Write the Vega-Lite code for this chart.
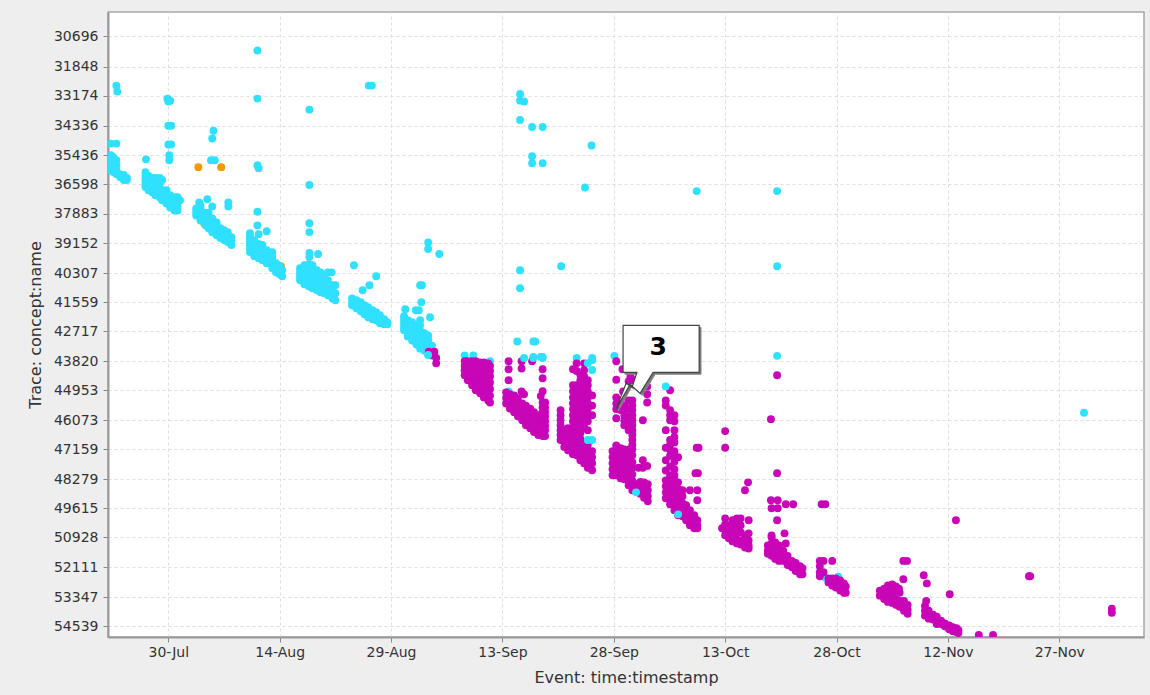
{"$schema":"https://vega.github.io/schema/vega-lite/v6.json","width":1036,"height":625,"autosize":"none","padding":{"left":108,"top":12,"right":6,"bottom":58},"background":"#eeeeee",
"config":{"view":{"fill":"white","stroke":"#a8a8a8","strokeWidth":1.5}},
"encoding":{"x":{"field":"d","type":"temporal","title":"Event: time:timestamp","scale":{"domain":[{"year":2015,"month":7,"date":21,"hours":21},{"year":2015,"month":12,"date":8,"hours":10}],"nice":false},"axis":{"values":[{"year":2015,"month":7,"date":30},{"year":2015,"month":8,"date":14},{"year":2015,"month":8,"date":29},{"year":2015,"month":9,"date":13},{"year":2015,"month":9,"date":28},{"year":2015,"month":10,"date":13},{"year":2015,"month":10,"date":28},{"year":2015,"month":11,"date":12},{"year":2015,"month":11,"date":27}],"format":"%d-%b","labelFlush":false,"labelFont":"DejaVu Sans","labelFontSize":14,"labelColor":"#333333","labelPadding":3,"titleFont":"DejaVu Sans","titleFontSize":16,"titleFontWeight":"normal","titleColor":"#333333","titlePadding":10,"grid":true,"gridColor":"#dddddd","gridDash":[3,3],"tickColor":"#888888","tickSize":5,"domainColor":"#999999","domainWidth":2}},
"y":{"field":"t","type":"quantitative","title":"Trace: concept:name","scale":{"domain":[29774,30696,31848,33174,34336,35436,36598,37883,39152,40307,41559,42717,43820,44953,46073,47159,48279,49615,50928,52111,53347,54539,54980],"range":[0,24.3,54.6,83.6,113.8,143.3,172,201.6,231,261.3,290.3,319.3,349.3,378.3,408.3,437.3,467.3,496.3,525.3,555.3,585,614.3,625],"nice":false,"zero":false},"axis":{"values":[30696,31848,33174,34336,35436,36598,37883,39152,40307,41559,42717,43820,44953,46073,47159,48279,49615,50928,52111,53347,54539],"format":"d","labelFont":"DejaVu Sans","labelFontSize":14,"labelColor":"#333333","labelPadding":5,"titleFont":"DejaVu Sans","titleFontSize":16,"titleFontWeight":"normal","titleColor":"#333333","titlePadding":10,"grid":true,"gridColor":"#dddddd","gridDash":[3,3],"tickColor":"#888888","tickSize":5,"domainColor":"#999999","domainWidth":2}}},
"layer":[
{"data":{"values":[
{"d":"2015-07-22T04:00","t":35950,"c":"C"},{"d":"2015-08-03T20:00","t":38300,"c":"C"},{"d":"2015-08-14T04:00","t":40040,"c":"C"},
{"d":"2015-07-23T00:00","t":32717,"c":"A"},{"d":"2015-07-23T03:00","t":32990,"c":"A"},{"d":"2015-07-22T06:00","t":35000,"c":"A"},{"d":"2015-07-23T00:00","t":35000,"c":"A"},
{"d":"2015-07-22T06:00","t":35436,"c":"A"},{"d":"2015-07-22T06:00","t":35636,"c":"A"},{"d":"2015-07-22T06:00","t":35836,"c":"A"},{"d":"2015-07-22T06:00","t":36036,"c":"A"},
{"d":"2015-07-22T14:00","t":35516,"c":"A"},{"d":"2015-07-22T14:00","t":35716,"c":"A"},{"d":"2015-07-22T14:00","t":35916,"c":"A"},{"d":"2015-07-22T14:00","t":36116,"c":"A"},
{"d":"2015-07-23T00:00","t":35636,"c":"A"},{"d":"2015-07-23T00:00","t":35836,"c":"A"},{"d":"2015-07-23T00:00","t":36036,"c":"A"},{"d":"2015-07-23T00:00","t":36196,"c":"A"},
{"d":"2015-07-23T12:00","t":36196,"c":"A"},{"d":"2015-07-23T12:00","t":36316,"c":"A"},{"d":"2015-07-24T00:00","t":36236,"c":"A"},{"d":"2015-07-24T00:00","t":36356,"c":"A"},{"d":"2015-07-24T00:00","t":36436,"c":"A"},{"d":"2015-07-24T10:00","t":36356,"c":"A"},{"d":"2015-07-24T10:00","t":36436,"c":"A"},
{"d":"2015-07-29T21:00","t":33290,"c":"A"},{"d":"2015-07-30T06:00","t":33368,"c":"A"},{"d":"2015-07-30T00:00","t":33400,"c":"A"},{"d":"2015-07-30T00:00","t":34336,"c":"A"},{"d":"2015-07-30T09:00","t":34336,"c":"A"},{"d":"2015-07-30T00:00","t":35033,"c":"A"},{"d":"2015-07-30T09:00","t":35033,"c":"A"},{"d":"2015-07-30T03:00","t":35436,"c":"A"},{"d":"2015-07-30T03:00","t":35636,"c":"A"},{"d":"2015-07-27T00:00","t":35600,"c":"A"},
{"d":"2015-07-26T22:00","t":36116,"c":"A"},{"d":"2015-07-26T22:00","t":36276,"c":"A"},{"d":"2015-07-26T22:00","t":36436,"c":"A"},{"d":"2015-07-26T22:00","t":36598,"c":"A"},{"d":"2015-07-26T22:00","t":36730,"c":"A"},
{"d":"2015-07-27T08:00","t":36276,"c":"A"},{"d":"2015-07-27T08:00","t":36480,"c":"A"},{"d":"2015-07-27T08:00","t":36686,"c":"A"},{"d":"2015-07-27T08:00","t":36864,"c":"A"},
{"d":"2015-07-27T20:00","t":36356,"c":"A"},{"d":"2015-07-27T20:00","t":36555,"c":"A"},{"d":"2015-07-27T20:00","t":36775,"c":"A"},{"d":"2015-07-27T20:00","t":36953,"c":"A"},
{"d":"2015-07-28T06:00","t":36356,"c":"A"},{"d":"2015-07-28T06:00","t":36598,"c":"A"},{"d":"2015-07-28T06:00","t":36864,"c":"A"},{"d":"2015-07-28T06:00","t":37085,"c":"A"},
{"d":"2015-07-28T20:00","t":36356,"c":"A"},{"d":"2015-07-28T20:00","t":36686,"c":"A"},{"d":"2015-07-28T20:00","t":36953,"c":"A"},{"d":"2015-07-28T20:00","t":37174,"c":"A"},
{"d":"2015-07-29T04:00","t":36436,"c":"A"},{"d":"2015-07-29T04:00","t":36864,"c":"A"},{"d":"2015-07-29T04:00","t":37085,"c":"A"},{"d":"2015-07-29T04:00","t":37307,"c":"A"},
{"d":"2015-07-29T18:00","t":36864,"c":"A"},{"d":"2015-07-29T18:00","t":37085,"c":"A"},{"d":"2015-07-29T18:00","t":37307,"c":"A"},{"d":"2015-07-29T18:00","t":37440,"c":"A"},
{"d":"2015-07-30T06:00","t":37085,"c":"A"},{"d":"2015-07-30T06:00","t":37307,"c":"A"},{"d":"2015-07-30T06:00","t":37528,"c":"A"},{"d":"2015-07-30T06:00","t":37617,"c":"A"},
{"d":"2015-07-30T20:00","t":37174,"c":"A"},{"d":"2015-07-30T20:00","t":37395,"c":"A"},{"d":"2015-07-30T20:00","t":37572,"c":"A"},{"d":"2015-07-30T20:00","t":37750,"c":"A"},
{"d":"2015-07-31T06:00","t":37174,"c":"A"},{"d":"2015-07-31T06:00","t":37350,"c":"A"},{"d":"2015-07-31T06:00","t":37572,"c":"A"},{"d":"2015-07-31T06:00","t":37750,"c":"A"},{"d":"2015-07-31T14:00","t":37307,"c":"A"},
{"d":"2015-08-03T04:00","t":37400,"c":"A"},{"d":"2015-08-04T06:00","t":37260,"c":"A"},{"d":"2015-08-04T22:00","t":37570,"c":"A"},{"d":"2015-08-07T02:00","t":37400,"c":"A"},{"d":"2015-08-07T02:00","t":37570,"c":"A"},
{"d":"2015-08-05T02:00","t":34520,"c":"A"},{"d":"2015-08-04T22:00","t":34810,"c":"A"},{"d":"2015-08-04T18:00","t":35636,"c":"A"},{"d":"2015-08-05T06:00","t":35636,"c":"A"},
{"d":"2015-08-02T18:00","t":37662,"c":"A"},{"d":"2015-08-02T18:00","t":37815,"c":"A"},{"d":"2015-08-02T18:00","t":37968,"c":"A"},{"d":"2015-08-03T08:00","t":37528,"c":"A"},{"d":"2015-08-03T08:00","t":37680,"c":"A"},{"d":"2015-08-03T08:00","t":37840,"c":"A"},{"d":"2015-08-03T08:00","t":38000,"c":"A"},{"d":"2015-08-03T08:00","t":38180,"c":"A"},
{"d":"2015-08-04T00:00","t":37840,"c":"A"},{"d":"2015-08-04T00:00","t":37968,"c":"A"},{"d":"2015-08-04T00:00","t":38095,"c":"A"},{"d":"2015-08-04T00:00","t":38240,"c":"A"},{"d":"2015-08-04T00:00","t":38391,"c":"A"},{"d":"2015-08-04T10:00","t":37840,"c":"A"},{"d":"2015-08-04T10:00","t":38010,"c":"A"},{"d":"2015-08-04T10:00","t":38180,"c":"A"},{"d":"2015-08-04T10:00","t":38350,"c":"A"},{"d":"2015-08-04T10:00","t":38518,"c":"A"},
{"d":"2015-08-04T22:00","t":38095,"c":"A"},{"d":"2015-08-04T22:00","t":38240,"c":"A"},{"d":"2015-08-04T22:00","t":38391,"c":"A"},{"d":"2015-08-04T22:00","t":38540,"c":"A"},{"d":"2015-08-04T22:00","t":38687,"c":"A"},{"d":"2015-08-05T12:00","t":38265,"c":"A"},{"d":"2015-08-05T12:00","t":38410,"c":"A"},{"d":"2015-08-05T12:00","t":38560,"c":"A"},{"d":"2015-08-05T12:00","t":38690,"c":"A"},{"d":"2015-08-05T12:00","t":38814,"c":"A"},
{"d":"2015-08-06T00:00","t":38518,"c":"A"},{"d":"2015-08-06T00:00","t":38630,"c":"A"},{"d":"2015-08-06T00:00","t":38750,"c":"A"},{"d":"2015-08-06T00:00","t":38850,"c":"A"},{"d":"2015-08-06T00:00","t":38941,"c":"A"},{"d":"2015-08-06T12:00","t":38603,"c":"A"},{"d":"2015-08-06T12:00","t":38700,"c":"A"},{"d":"2015-08-06T12:00","t":38814,"c":"A"},{"d":"2015-08-06T12:00","t":38920,"c":"A"},{"d":"2015-08-06T12:00","t":39026,"c":"A"},
{"d":"2015-08-07T00:00","t":38687,"c":"A"},{"d":"2015-08-07T00:00","t":38790,"c":"A"},{"d":"2015-08-07T00:00","t":38900,"c":"A"},{"d":"2015-08-07T00:00","t":39000,"c":"A"},{"d":"2015-08-07T00:00","t":39110,"c":"A"},{"d":"2015-08-07T12:00","t":38898,"c":"A"},{"d":"2015-08-07T12:00","t":39060,"c":"A"},{"d":"2015-08-07T12:00","t":39230,"c":"A"},
{"d":"2015-08-11T00:00","t":31234,"c":"A"},{"d":"2015-08-11T00:00","t":33290,"c":"A"},{"d":"2015-08-11T00:00","t":35836,"c":"A"},{"d":"2015-08-11T04:00","t":35956,"c":"A"},{"d":"2015-08-11T00:00","t":37800,"c":"A"},{"d":"2015-08-11T00:00","t":38391,"c":"A"},{"d":"2015-08-12T06:00","t":38645,"c":"A"},{"d":"2015-08-11T04:00","t":38770,"c":"A"},
{"d":"2015-08-10T00:00","t":38730,"c":"A"},{"d":"2015-08-10T00:00","t":38855,"c":"A"},{"d":"2015-08-10T00:00","t":38980,"c":"A"},{"d":"2015-08-10T00:00","t":39105,"c":"A"},{"d":"2015-08-10T00:00","t":39230,"c":"A"},{"d":"2015-08-10T00:00","t":39365,"c":"A"},{"d":"2015-08-10T00:00","t":39500,"c":"A"},
{"d":"2015-08-10T14:00","t":39026,"c":"A"},{"d":"2015-08-10T14:00","t":39185,"c":"A"},{"d":"2015-08-10T14:00","t":39345,"c":"A"},{"d":"2015-08-10T14:00","t":39500,"c":"A"},{"d":"2015-08-10T14:00","t":39653,"c":"A"},{"d":"2015-08-11T04:00","t":39190,"c":"A"},{"d":"2015-08-11T04:00","t":39325,"c":"A"},{"d":"2015-08-11T04:00","t":39460,"c":"A"},{"d":"2015-08-11T04:00","t":39595,"c":"A"},{"d":"2015-08-11T04:00","t":39730,"c":"A"},
{"d":"2015-08-11T16:00","t":39230,"c":"A"},{"d":"2015-08-11T16:00","t":39365,"c":"A"},{"d":"2015-08-11T16:00","t":39500,"c":"A"},{"d":"2015-08-11T16:00","t":39650,"c":"A"},{"d":"2015-08-11T16:00","t":39807,"c":"A"},{"d":"2015-08-12T06:00","t":39422,"c":"A"},{"d":"2015-08-12T06:00","t":39540,"c":"A"},{"d":"2015-08-12T06:00","t":39653,"c":"A"},{"d":"2015-08-12T06:00","t":39790,"c":"A"},{"d":"2015-08-12T06:00","t":39922,"c":"A"},
{"d":"2015-08-13T00:00","t":39500,"c":"A"},{"d":"2015-08-13T00:00","t":39650,"c":"A"},{"d":"2015-08-13T00:00","t":39807,"c":"A"},{"d":"2015-08-13T00:00","t":39960,"c":"A"},{"d":"2015-08-13T00:00","t":40115,"c":"A"},{"d":"2015-08-13T12:00","t":39922,"c":"A"},{"d":"2015-08-13T12:00","t":40100,"c":"A"},{"d":"2015-08-13T12:00","t":40270,"c":"A"},{"d":"2015-08-14T00:00","t":40038,"c":"A"},{"d":"2015-08-14T00:00","t":40190,"c":"A"},{"d":"2015-08-14T00:00","t":40350,"c":"A"},{"d":"2015-08-14T08:00","t":40192,"c":"A"},{"d":"2015-08-14T08:00","t":40436,"c":"A"},
{"d":"2015-08-18T00:00","t":33716,"c":"A"},{"d":"2015-08-18T00:00","t":36640,"c":"A"},{"d":"2015-08-18T00:00","t":38300,"c":"A"},{"d":"2015-08-18T00:00","t":38680,"c":"A"},{"d":"2015-08-18T00:00","t":39530,"c":"A"},{"d":"2015-08-18T00:00","t":39690,"c":"A"},{"d":"2015-08-19T04:00","t":39570,"c":"A"},
{"d":"2015-08-16T18:00","t":40115,"c":"A"},{"d":"2015-08-16T18:00","t":40230,"c":"A"},{"d":"2015-08-16T18:00","t":40350,"c":"A"},{"d":"2015-08-16T18:00","t":40480,"c":"A"},{"d":"2015-08-16T18:00","t":40609,"c":"A"},{"d":"2015-08-17T08:00","t":39999,"c":"A"},{"d":"2015-08-17T08:00","t":40200,"c":"A"},{"d":"2015-08-17T08:00","t":40400,"c":"A"},{"d":"2015-08-17T08:00","t":40600,"c":"A"},{"d":"2015-08-17T08:00","t":40782,"c":"A"},
{"d":"2015-08-17T22:00","t":39960,"c":"A"},{"d":"2015-08-17T22:00","t":40180,"c":"A"},{"d":"2015-08-17T22:00","t":40400,"c":"A"},{"d":"2015-08-17T22:00","t":40630,"c":"A"},{"d":"2015-08-17T22:00","t":40868,"c":"A"},{"d":"2015-08-18T10:00","t":39999,"c":"A"},{"d":"2015-08-18T10:00","t":40240,"c":"A"},{"d":"2015-08-18T10:00","t":40480,"c":"A"},{"d":"2015-08-18T10:00","t":40720,"c":"A"},{"d":"2015-08-18T10:00","t":40954,"c":"A"},
{"d":"2015-08-19T00:00","t":40192,"c":"A"},{"d":"2015-08-19T00:00","t":40400,"c":"A"},{"d":"2015-08-19T00:00","t":40609,"c":"A"},{"d":"2015-08-19T00:00","t":40825,"c":"A"},{"d":"2015-08-19T00:00","t":41041,"c":"A"},{"d":"2015-08-19T12:00","t":40270,"c":"A"},{"d":"2015-08-19T12:00","t":40480,"c":"A"},{"d":"2015-08-19T12:00","t":40700,"c":"A"},{"d":"2015-08-19T12:00","t":40910,"c":"A"},{"d":"2015-08-19T12:00","t":41127,"c":"A"},
{"d":"2015-08-20T00:00","t":40400,"c":"A"},{"d":"2015-08-20T00:00","t":40610,"c":"A"},{"d":"2015-08-20T00:00","t":40825,"c":"A"},{"d":"2015-08-20T00:00","t":41000,"c":"A"},{"d":"2015-08-20T00:00","t":41170,"c":"A"},{"d":"2015-08-20T12:00","t":40270,"c":"A"},{"d":"2015-08-20T12:00","t":40600,"c":"A"},{"d":"2015-08-20T12:00","t":40950,"c":"A"},{"d":"2015-08-20T12:00","t":41100,"c":"A"},{"d":"2015-08-20T12:00","t":41257,"c":"A"},{"d":"2015-08-21T00:00","t":40270,"c":"A"},{"d":"2015-08-21T02:00","t":40825,"c":"A"},{"d":"2015-08-21T02:00","t":41100,"c":"A"},{"d":"2015-08-21T02:00","t":41387,"c":"A"},{"d":"2015-08-21T12:00","t":40825,"c":"A"},{"d":"2015-08-21T12:00","t":41170,"c":"A"},{"d":"2015-08-21T12:00","t":41473,"c":"A"},
{"d":"2015-08-24T00:00","t":39999,"c":"A"},{"d":"2015-08-27T00:00","t":40436,"c":"A"},{"d":"2015-08-26T02:00","t":40825,"c":"A"},{"d":"2015-08-25T04:00","t":41041,"c":"A"},
{"d":"2015-08-26T00:00","t":32717,"c":"A"},{"d":"2015-08-26T10:00","t":32717,"c":"A"},
{"d":"2015-08-23T18:00","t":41387,"c":"A"},{"d":"2015-08-23T18:00","t":41530,"c":"A"},{"d":"2015-08-23T18:00","t":41678,"c":"A"},{"d":"2015-08-24T08:00","t":41473,"c":"A"},{"d":"2015-08-24T08:00","t":41640,"c":"A"},{"d":"2015-08-24T08:00","t":41798,"c":"A"},{"d":"2015-08-24T22:00","t":41559,"c":"A"},{"d":"2015-08-24T22:00","t":41740,"c":"A"},{"d":"2015-08-24T22:00","t":41918,"c":"A"},{"d":"2015-08-25T10:00","t":41678,"c":"A"},{"d":"2015-08-25T10:00","t":41860,"c":"A"},{"d":"2015-08-25T10:00","t":42038,"c":"A"},
{"d":"2015-08-25T22:00","t":41758,"c":"A"},{"d":"2015-08-25T22:00","t":41960,"c":"A"},{"d":"2015-08-25T22:00","t":42158,"c":"A"},{"d":"2015-08-26T12:00","t":41878,"c":"A"},{"d":"2015-08-26T12:00","t":42060,"c":"A"},{"d":"2015-08-26T12:00","t":42238,"c":"A"},{"d":"2015-08-27T00:00","t":41958,"c":"A"},{"d":"2015-08-27T00:00","t":42120,"c":"A"},{"d":"2015-08-27T00:00","t":42278,"c":"A"},{"d":"2015-08-27T12:00","t":42078,"c":"A"},{"d":"2015-08-27T12:00","t":42240,"c":"A"},{"d":"2015-08-27T12:00","t":42398,"c":"A"},{"d":"2015-08-28T02:00","t":42238,"c":"A"},{"d":"2015-08-28T02:00","t":42438,"c":"A"},{"d":"2015-08-28T12:00","t":42358,"c":"A"},{"d":"2015-08-28T12:00","t":42438,"c":"A"},
{"d":"2015-09-03T00:00","t":39130,"c":"A"},{"d":"2015-09-03T00:00","t":39380,"c":"A"},{"d":"2015-09-04T12:00","t":39570,"c":"A"},{"d":"2015-09-01T22:00","t":40825,"c":"A"},{"d":"2015-09-02T04:00","t":40825,"c":"A"},{"d":"2015-09-02T02:00","t":41559,"c":"A"},{"d":"2015-08-30T22:00","t":41838,"c":"A"},{"d":"2015-09-01T08:00","t":41878,"c":"A"},{"d":"2015-09-01T18:00","t":41878,"c":"A"},{"d":"2015-09-03T06:00","t":42158,"c":"A"},{"d":"2015-09-01T22:00","t":42278,"c":"A"},
{"d":"2015-08-30T18:00","t":42118,"c":"A"},{"d":"2015-08-30T18:00","t":42260,"c":"A"},{"d":"2015-08-30T18:00","t":42400,"c":"A"},{"d":"2015-08-30T18:00","t":42540,"c":"A"},{"d":"2015-08-30T18:00","t":42677,"c":"A"},{"d":"2015-08-31T06:00","t":42278,"c":"A"},{"d":"2015-08-31T06:00","t":42440,"c":"A"},{"d":"2015-08-31T06:00","t":42600,"c":"A"},{"d":"2015-08-31T06:00","t":42750,"c":"A"},{"d":"2015-08-31T06:00","t":42905,"c":"A"},{"d":"2015-08-31T20:00","t":42358,"c":"A"},{"d":"2015-08-31T20:00","t":42540,"c":"A"},{"d":"2015-08-31T20:00","t":42717,"c":"A"},{"d":"2015-08-31T20:00","t":42890,"c":"A"},{"d":"2015-08-31T20:00","t":43055,"c":"A"},
{"d":"2015-09-01T10:00","t":42478,"c":"A"},{"d":"2015-09-01T10:00","t":42650,"c":"A"},{"d":"2015-09-01T10:00","t":42830,"c":"A"},{"d":"2015-09-01T10:00","t":43020,"c":"A"},{"d":"2015-09-01T10:00","t":43205,"c":"A"},{"d":"2015-09-01T22:00","t":42478,"c":"A"},{"d":"2015-09-01T22:00","t":42690,"c":"A"},{"d":"2015-09-01T22:00","t":42905,"c":"A"},{"d":"2015-09-01T22:00","t":43130,"c":"A"},{"d":"2015-09-01T22:00","t":43356,"c":"A"},{"d":"2015-09-02T12:00","t":42790,"c":"A"},{"d":"2015-09-02T12:00","t":42940,"c":"A"},{"d":"2015-09-02T12:00","t":43090,"c":"A"},{"d":"2015-09-02T12:00","t":43260,"c":"A"},{"d":"2015-09-02T12:00","t":43431,"c":"A"},{"d":"2015-09-03T00:00","t":42868,"c":"A"},{"d":"2015-09-03T00:00","t":43040,"c":"A"},{"d":"2015-09-03T00:00","t":43205,"c":"A"},{"d":"2015-09-03T00:00","t":43400,"c":"A"},{"d":"2015-09-03T00:00","t":43582,"c":"A"},{"d":"2015-09-03T12:00","t":43243,"c":"A"},{"d":"2015-09-03T12:00","t":43619,"c":"A"},
{"d":"2015-09-07T22:00","t":43600,"c":"A"},{"d":"2015-09-09T02:00","t":43600,"c":"A"},{"d":"2015-09-11T08:00","t":43820,"c":"A"},
{"d":"2015-09-15T09:00","t":33100,"c":"A"},{"d":"2015-09-15T09:00","t":33368,"c":"A"},{"d":"2015-09-15T22:00","t":33400,"c":"A"},{"d":"2015-09-15T09:00","t":34110,"c":"A"},{"d":"2015-09-17T00:00","t":34380,"c":"A"},{"d":"2015-09-18T10:00","t":34380,"c":"A"},{"d":"2015-09-17T00:00","t":35470,"c":"A"},{"d":"2015-09-17T00:00","t":35756,"c":"A"},{"d":"2015-09-18T10:00","t":35756,"c":"A"},{"d":"2015-09-25T00:00","t":35070,"c":"A"},{"d":"2015-09-24T03:00","t":36750,"c":"A"},{"d":"2015-10-09T04:00","t":36905,"c":"A"},{"d":"2015-10-20T00:00","t":36905,"c":"A"},{"d":"2015-09-20T22:00","t":40038,"c":"A"},{"d":"2015-10-20T00:00","t":40038,"c":"A"},{"d":"2015-09-15T09:00","t":40192,"c":"A"},{"d":"2015-09-15T09:00","t":40954,"c":"A"},{"d":"2015-09-15T00:00","t":43093,"c":"A"},{"d":"2015-09-17T04:00","t":43093,"c":"A"},{"d":"2015-09-17T10:00","t":43093,"c":"A"},{"d":"2015-10-20T00:00","t":43619,"c":"A"},{"d":"2015-09-23T00:00","t":43700,"c":"A"},{"d":"2015-09-25T02:00","t":43700,"c":"A"},{"d":"2015-09-28T02:00","t":43619,"c":"A"},{"d":"2015-09-17T04:00","t":43660,"c":"A"},{"d":"2015-09-18T04:00","t":43660,"c":"A"},{"d":"2015-09-18T10:00","t":43660,"c":"A"},{"d":"2015-09-13T20:00","t":45000,"c":"A"},{"d":"2015-11-30T08:00","t":45790,"c":"A"},{"d":"2015-10-26T12:00","t":52540,"c":"A"},{"d":"2015-10-28T06:00","t":52500,"c":"A"},
{"d":"2015-09-03T12:00","t":43582,"c":"B"},{"d":"2015-09-03T02:00","t":43470,"c":"B"},{"d":"2015-09-04T02:00","t":43700,"c":"B"},{"d":"2015-09-04T02:00","t":43900,"c":"B"},{"d":"2015-09-03T20:00","t":43470,"c":"B"},
{"d":"2015-09-03T00:00","t":43582,"c":"A"},
{"d":"2015-09-07T22:00","t":43820,"c":"B"},{"d":"2015-09-07T22:00","t":44000,"c":"B"},{"d":"2015-09-07T22:00","t":44171,"c":"B"},{"d":"2015-09-07T22:00","t":44366,"c":"B"},{"d":"2015-09-08T08:00","t":43820,"c":"B"},{"d":"2015-09-08T08:00","t":44000,"c":"B"},{"d":"2015-09-08T08:00","t":44171,"c":"B"},{"d":"2015-09-08T08:00","t":44366,"c":"B"},{"d":"2015-09-08T08:00","t":44562,"c":"B"},
{"d":"2015-09-08T22:00","t":43820,"c":"B"},{"d":"2015-09-08T22:00","t":44000,"c":"B"},{"d":"2015-09-08T22:00","t":44171,"c":"B"},{"d":"2015-09-08T22:00","t":44340,"c":"B"},{"d":"2015-09-08T22:00","t":44500,"c":"B"},{"d":"2015-09-08T22:00","t":44620,"c":"B"},{"d":"2015-09-08T22:00","t":44757,"c":"B"},{"d":"2015-09-09T10:00","t":43820,"c":"B"},{"d":"2015-09-09T10:00","t":44000,"c":"B"},{"d":"2015-09-09T10:00","t":44171,"c":"B"},{"d":"2015-09-09T10:00","t":44366,"c":"B"},{"d":"2015-09-09T10:00","t":44562,"c":"B"},{"d":"2015-09-09T10:00","t":44757,"c":"B"},{"d":"2015-09-09T10:00","t":44953,"c":"B"},
{"d":"2015-09-10T00:00","t":43860,"c":"B"},{"d":"2015-09-10T00:00","t":44040,"c":"B"},{"d":"2015-09-10T00:00","t":44210,"c":"B"},{"d":"2015-09-10T00:00","t":44400,"c":"B"},{"d":"2015-09-10T00:00","t":44600,"c":"B"},{"d":"2015-09-10T00:00","t":44800,"c":"B"},{"d":"2015-09-10T00:00","t":45067,"c":"B"},{"d":"2015-09-10T12:00","t":43860,"c":"B"},{"d":"2015-09-10T12:00","t":44040,"c":"B"},{"d":"2015-09-10T12:00","t":44210,"c":"B"},{"d":"2015-09-10T12:00","t":44450,"c":"B"},{"d":"2015-09-10T12:00","t":44700,"c":"B"},{"d":"2015-09-10T12:00","t":44950,"c":"B"},{"d":"2015-09-10T12:00","t":45219,"c":"B"},
{"d":"2015-09-11T02:00","t":43900,"c":"B"},{"d":"2015-09-11T02:00","t":44100,"c":"B"},{"d":"2015-09-11T02:00","t":44300,"c":"B"},{"d":"2015-09-11T02:00","t":44550,"c":"B"},{"d":"2015-09-11T02:00","t":44800,"c":"B"},{"d":"2015-09-11T02:00","t":45060,"c":"B"},{"d":"2015-09-11T02:00","t":45333,"c":"B"},{"d":"2015-09-11T08:00","t":44000,"c":"B"},{"d":"2015-09-11T08:00","t":44200,"c":"B"},{"d":"2015-09-11T08:00","t":44400,"c":"B"},{"d":"2015-09-11T08:00","t":44650,"c":"B"},{"d":"2015-09-11T08:00","t":44900,"c":"B"},{"d":"2015-09-11T08:00","t":45150,"c":"B"},{"d":"2015-09-11T08:00","t":45409,"c":"B"},
{"d":"2015-09-13T20:00","t":43820,"c":"B"},{"d":"2015-09-13T20:00","t":44130,"c":"B"},{"d":"2015-09-13T20:00","t":44562,"c":"B"},{"d":"2015-09-15T14:00","t":43820,"c":"B"},{"d":"2015-09-15T14:00","t":44100,"c":"B"},{"d":"2015-09-15T14:00","t":45000,"c":"B"},{"d":"2015-09-15T22:00","t":45100,"c":"B"},{"d":"2015-09-17T00:00","t":43820,"c":"B"},{"d":"2015-09-18T10:00","t":44130,"c":"B"},{"d":"2015-09-18T10:00","t":44480,"c":"B"},{"d":"2015-09-18T10:00","t":44990,"c":"B"},{"d":"2015-09-18T04:00","t":45170,"c":"B"},
{"d":"2015-09-13T12:00","t":45029,"c":"B"},{"d":"2015-09-13T12:00","t":45240,"c":"B"},{"d":"2015-09-13T12:00","t":45447,"c":"B"},{"d":"2015-09-14T00:00","t":45100,"c":"B"},{"d":"2015-09-14T00:00","t":45370,"c":"B"},{"d":"2015-09-14T00:00","t":45636,"c":"B"},{"d":"2015-09-14T14:00","t":45143,"c":"B"},{"d":"2015-09-14T14:00","t":45320,"c":"B"},{"d":"2015-09-14T14:00","t":45500,"c":"B"},{"d":"2015-09-14T14:00","t":45640,"c":"B"},{"d":"2015-09-14T14:00","t":45769,"c":"B"},
{"d":"2015-09-15T02:00","t":45257,"c":"B"},{"d":"2015-09-15T02:00","t":45430,"c":"B"},{"d":"2015-09-15T02:00","t":45600,"c":"B"},{"d":"2015-09-15T02:00","t":45760,"c":"B"},{"d":"2015-09-15T02:00","t":45921,"c":"B"},{"d":"2015-09-15T16:00","t":45447,"c":"B"},{"d":"2015-09-15T16:00","t":45600,"c":"B"},{"d":"2015-09-15T16:00","t":45760,"c":"B"},{"d":"2015-09-15T16:00","t":45920,"c":"B"},{"d":"2015-09-15T16:00","t":46073,"c":"B"},{"d":"2015-09-16T04:00","t":45523,"c":"B"},{"d":"2015-09-16T04:00","t":45710,"c":"B"},{"d":"2015-09-16T04:00","t":45900,"c":"B"},{"d":"2015-09-16T04:00","t":46080,"c":"B"},{"d":"2015-09-16T04:00","t":46257,"c":"B"},
{"d":"2015-09-16T18:00","t":45636,"c":"B"},{"d":"2015-09-16T18:00","t":45820,"c":"B"},{"d":"2015-09-16T18:00","t":46000,"c":"B"},{"d":"2015-09-16T18:00","t":46180,"c":"B"},{"d":"2015-09-16T18:00","t":46367,"c":"B"},{"d":"2015-09-17T06:00","t":45769,"c":"B"},{"d":"2015-09-17T06:00","t":45960,"c":"B"},{"d":"2015-09-17T06:00","t":46150,"c":"B"},{"d":"2015-09-17T06:00","t":46330,"c":"B"},{"d":"2015-09-17T06:00","t":46515,"c":"B"},{"d":"2015-09-17T20:00","t":45883,"c":"B"},{"d":"2015-09-17T20:00","t":46070,"c":"B"},{"d":"2015-09-17T20:00","t":46257,"c":"B"},{"d":"2015-09-17T20:00","t":46440,"c":"B"},{"d":"2015-09-17T20:00","t":46625,"c":"B"},
{"d":"2015-09-18T10:00","t":45409,"c":"B"},{"d":"2015-09-18T10:00","t":45590,"c":"B"},{"d":"2015-09-18T10:00","t":45760,"c":"B"},{"d":"2015-09-18T10:00","t":45930,"c":"B"},{"d":"2015-09-18T10:00","t":46110,"c":"B"},{"d":"2015-09-18T10:00","t":46280,"c":"B"},{"d":"2015-09-18T10:00","t":46450,"c":"B"},{"d":"2015-09-18T10:00","t":46662,"c":"B"},{"d":"2015-09-18T18:00","t":45409,"c":"B"},{"d":"2015-09-18T18:00","t":45590,"c":"B"},{"d":"2015-09-18T18:00","t":45760,"c":"B"},{"d":"2015-09-18T18:00","t":45930,"c":"B"},{"d":"2015-09-18T18:00","t":46110,"c":"B"},{"d":"2015-09-18T18:00","t":46280,"c":"B"},{"d":"2015-09-18T18:00","t":46450,"c":"B"},{"d":"2015-09-18T18:00","t":46662,"c":"B"},
{"d":"2015-09-20T20:00","t":45693,"c":"B"},{"d":"2015-09-20T20:00","t":45883,"c":"B"},{"d":"2015-09-20T20:00","t":46073,"c":"B"},{"d":"2015-09-20T20:00","t":46257,"c":"B"},{"d":"2015-09-20T20:00","t":46441,"c":"B"},{"d":"2015-09-20T20:00","t":46625,"c":"B"},{"d":"2015-09-20T20:00","t":46809,"c":"B"},
{"d":"2015-09-21T08:00","t":46441,"c":"B"},{"d":"2015-09-21T08:00","t":46662,"c":"B"},{"d":"2015-09-21T08:00","t":46880,"c":"B"},{"d":"2015-09-21T08:00","t":47070,"c":"B"},{"d":"2015-09-21T20:00","t":46367,"c":"B"},{"d":"2015-09-21T20:00","t":46590,"c":"B"},{"d":"2015-09-21T20:00","t":46809,"c":"B"},{"d":"2015-09-21T20:00","t":47070,"c":"B"},{"d":"2015-09-21T20:00","t":47195,"c":"B"},
{"d":"2015-09-22T12:00","t":44132,"c":"B"},{"d":"2015-09-22T12:00","t":44757,"c":"B"},{"d":"2015-09-22T12:00","t":44991,"c":"B"},{"d":"2015-09-22T12:00","t":45219,"c":"B"},{"d":"2015-09-22T12:00","t":45447,"c":"B"},{"d":"2015-09-22T12:00","t":45655,"c":"B"},{"d":"2015-09-22T12:00","t":45883,"c":"B"},{"d":"2015-09-22T12:00","t":46110,"c":"B"},{"d":"2015-09-22T12:00","t":46330,"c":"B"},{"d":"2015-09-22T12:00","t":46551,"c":"B"},{"d":"2015-09-22T12:00","t":46772,"c":"B"},{"d":"2015-09-22T12:00","t":46993,"c":"B"},{"d":"2015-09-22T12:00","t":47234,"c":"B"},{"d":"2015-09-22T12:00","t":47340,"c":"B"},
{"d":"2015-09-23T00:00","t":43900,"c":"B"},{"d":"2015-09-23T00:00","t":44200,"c":"B"},{"d":"2015-09-23T00:00","t":44757,"c":"B"},{"d":"2015-09-23T00:00","t":44991,"c":"B"},{"d":"2015-09-23T00:00","t":45219,"c":"B"},{"d":"2015-09-23T00:00","t":45447,"c":"B"},{"d":"2015-09-23T00:00","t":45655,"c":"B"},{"d":"2015-09-23T00:00","t":45883,"c":"B"},{"d":"2015-09-23T00:00","t":46110,"c":"B"},{"d":"2015-09-23T00:00","t":46330,"c":"B"},{"d":"2015-09-23T00:00","t":46551,"c":"B"},{"d":"2015-09-23T00:00","t":46772,"c":"B"},{"d":"2015-09-23T00:00","t":46993,"c":"B"},{"d":"2015-09-23T00:00","t":47234,"c":"B"},{"d":"2015-09-23T00:00","t":47383,"c":"B"},
{"d":"2015-09-23T12:00","t":44366,"c":"B"},{"d":"2015-09-23T12:00","t":44562,"c":"B"},{"d":"2015-09-23T12:00","t":44757,"c":"B"},{"d":"2015-09-23T12:00","t":44991,"c":"B"},{"d":"2015-09-23T12:00","t":45219,"c":"B"},{"d":"2015-09-23T12:00","t":45447,"c":"B"},{"d":"2015-09-23T12:00","t":45655,"c":"B"},{"d":"2015-09-23T12:00","t":45883,"c":"B"},{"d":"2015-09-23T12:00","t":46110,"c":"B"},{"d":"2015-09-23T12:00","t":46330,"c":"B"},{"d":"2015-09-23T12:00","t":46551,"c":"B"},{"d":"2015-09-23T12:00","t":46772,"c":"B"},{"d":"2015-09-23T12:00","t":47000,"c":"B"},{"d":"2015-09-23T12:00","t":47234,"c":"B"},{"d":"2015-09-23T12:00","t":47458,"c":"B"},{"d":"2015-09-23T12:00","t":47570,"c":"B"},
{"d":"2015-09-24T00:00","t":43900,"c":"B"},{"d":"2015-09-24T00:00","t":44170,"c":"B"},{"d":"2015-09-24T00:00","t":44400,"c":"B"},{"d":"2015-09-24T00:00","t":44700,"c":"B"},{"d":"2015-09-24T00:00","t":44991,"c":"B"},{"d":"2015-09-24T00:00","t":45219,"c":"B"},{"d":"2015-09-24T00:00","t":45447,"c":"B"},{"d":"2015-09-24T00:00","t":45655,"c":"B"},{"d":"2015-09-24T00:00","t":45883,"c":"B"},{"d":"2015-09-24T00:00","t":46110,"c":"B"},{"d":"2015-09-24T00:00","t":46330,"c":"B"},{"d":"2015-09-24T00:00","t":46993,"c":"B"},{"d":"2015-09-24T00:00","t":47234,"c":"B"},{"d":"2015-09-24T00:00","t":47458,"c":"B"},{"d":"2015-09-24T00:00","t":47682,"c":"B"},
{"d":"2015-09-24T12:00","t":44562,"c":"B"},{"d":"2015-09-24T12:00","t":44757,"c":"B"},{"d":"2015-09-24T12:00","t":44991,"c":"B"},{"d":"2015-09-24T12:00","t":45219,"c":"B"},{"d":"2015-09-24T12:00","t":45447,"c":"B"},{"d":"2015-09-24T12:00","t":45655,"c":"B"},{"d":"2015-09-24T12:00","t":45883,"c":"B"},{"d":"2015-09-24T12:00","t":46110,"c":"B"},{"d":"2015-09-24T12:00","t":46441,"c":"B"},{"d":"2015-09-24T12:00","t":47000,"c":"B"},{"d":"2015-09-24T12:00","t":47234,"c":"B"},{"d":"2015-09-24T12:00","t":47458,"c":"B"},{"d":"2015-09-24T12:00","t":47682,"c":"B"},{"d":"2015-09-24T12:00","t":47850,"c":"B"},
{"d":"2015-09-25T02:00","t":45143,"c":"B"},{"d":"2015-09-25T02:00","t":45523,"c":"B"},{"d":"2015-09-25T02:00","t":45883,"c":"B"},{"d":"2015-09-25T02:00","t":47234,"c":"B"},{"d":"2015-09-25T02:00","t":47458,"c":"B"},{"d":"2015-09-25T02:00","t":47682,"c":"B"},{"d":"2015-09-25T02:00","t":47943,"c":"B"},
{"d":"2015-09-24T12:00","t":46809,"c":"A"},{"d":"2015-09-25T02:00","t":46809,"c":"A"},
{"d":"2015-09-28T08:00","t":43820,"c":"B"},{"d":"2015-09-28T08:00","t":44540,"c":"B"},{"d":"2015-09-29T04:00","t":44132,"c":"B"},{"d":"2015-09-30T00:00","t":44600,"c":"B"},{"d":"2015-09-30T06:00","t":44400,"c":"B"},{"d":"2015-09-30T16:00","t":44560,"c":"B"},{"d":"2015-09-29T06:00","t":45000,"c":"B"},
{"d":"2015-10-02T12:00","t":44560,"c":"B"},{"d":"2015-10-02T12:00","t":44800,"c":"B"},{"d":"2015-10-02T12:00","t":45100,"c":"B"},{"d":"2015-10-02T12:00","t":45409,"c":"B"},
{"d":"2015-09-27T20:00","t":47234,"c":"B"},{"d":"2015-09-27T20:00","t":47458,"c":"B"},{"d":"2015-09-27T20:00","t":47682,"c":"B"},{"d":"2015-09-27T20:00","t":47900,"c":"B"},{"d":"2015-09-27T20:00","t":48130,"c":"B"},
{"d":"2015-09-28T08:00","t":45219,"c":"B"},{"d":"2015-09-28T08:00","t":45450,"c":"B"},{"d":"2015-09-28T08:00","t":45655,"c":"B"},{"d":"2015-09-28T08:00","t":45997,"c":"B"},{"d":"2015-09-28T08:00","t":47010,"c":"B"},{"d":"2015-09-28T08:00","t":47234,"c":"B"},{"d":"2015-09-28T08:00","t":47458,"c":"B"},{"d":"2015-09-28T08:00","t":47720,"c":"B"},{"d":"2015-09-28T08:00","t":47943,"c":"B"},{"d":"2015-09-28T08:00","t":48130,"c":"B"},
{"d":"2015-09-28T22:00","t":45333,"c":"B"},{"d":"2015-09-28T22:00","t":45690,"c":"B"},{"d":"2015-09-28T22:00","t":47120,"c":"B"},{"d":"2015-09-28T22:00","t":47340,"c":"B"},{"d":"2015-09-28T22:00","t":47570,"c":"B"},{"d":"2015-09-28T22:00","t":47850,"c":"B"},{"d":"2015-09-28T22:00","t":48050,"c":"B"},{"d":"2015-09-28T22:00","t":48240,"c":"B"},
{"d":"2015-09-29T10:00","t":45523,"c":"B"},{"d":"2015-09-29T10:00","t":45693,"c":"B"},{"d":"2015-09-29T10:00","t":45883,"c":"B"},{"d":"2015-09-29T10:00","t":46073,"c":"B"},{"d":"2015-09-29T10:00","t":46257,"c":"B"},{"d":"2015-09-29T10:00","t":47160,"c":"B"},{"d":"2015-09-29T10:00","t":47383,"c":"B"},{"d":"2015-09-29T10:00","t":47640,"c":"B"},{"d":"2015-09-29T10:00","t":47850,"c":"B"},{"d":"2015-09-29T10:00","t":48100,"c":"B"},{"d":"2015-09-29T10:00","t":48280,"c":"B"},
{"d":"2015-09-30T00:00","t":45333,"c":"B"},{"d":"2015-09-30T00:00","t":45636,"c":"B"},{"d":"2015-09-30T00:00","t":45921,"c":"B"},{"d":"2015-09-30T00:00","t":46220,"c":"B"},{"d":"2015-09-30T00:00","t":46441,"c":"B"},{"d":"2015-09-30T00:00","t":47160,"c":"B"},{"d":"2015-09-30T00:00","t":47383,"c":"B"},{"d":"2015-09-30T00:00","t":47640,"c":"B"},{"d":"2015-09-30T00:00","t":47850,"c":"B"},{"d":"2015-09-30T00:00","t":48100,"c":"B"},{"d":"2015-09-30T00:00","t":48350,"c":"B"},{"d":"2015-09-30T00:00","t":48555,"c":"B"},
{"d":"2015-09-30T12:00","t":45333,"c":"B"},{"d":"2015-09-30T12:00","t":45523,"c":"B"},{"d":"2015-09-30T12:00","t":45693,"c":"B"},{"d":"2015-09-30T12:00","t":45883,"c":"B"},{"d":"2015-09-30T12:00","t":46073,"c":"B"},{"d":"2015-09-30T12:00","t":46257,"c":"B"},{"d":"2015-09-30T12:00","t":46441,"c":"B"},{"d":"2015-09-30T12:00","t":46625,"c":"B"},{"d":"2015-09-30T12:00","t":46809,"c":"B"},{"d":"2015-09-30T12:00","t":46993,"c":"B"},{"d":"2015-09-30T12:00","t":47160,"c":"B"},{"d":"2015-09-30T12:00","t":47383,"c":"B"},{"d":"2015-09-30T12:00","t":47640,"c":"B"},{"d":"2015-09-30T12:00","t":47850,"c":"B"},{"d":"2015-09-30T12:00","t":48100,"c":"B"},{"d":"2015-09-30T12:00","t":48350,"c":"B"},{"d":"2015-09-30T12:00","t":48555,"c":"B"},{"d":"2015-09-30T12:00","t":48785,"c":"B"},
{"d":"2015-10-01T00:00","t":48500,"c":"B"},{"d":"2015-10-01T00:00","t":48785,"c":"B"},{"d":"2015-10-01T08:00","t":47850,"c":"B"},{"d":"2015-10-01T14:00","t":48400,"c":"B"},{"d":"2015-10-01T14:00","t":48670,"c":"B"},{"d":"2015-10-01T14:00","t":48950,"c":"B"},{"d":"2015-10-01T22:00","t":46073,"c":"B"},{"d":"2015-10-01T22:00","t":47570,"c":"B"},{"d":"2015-10-01T22:00","t":47850,"c":"B"},{"d":"2015-10-02T02:00","t":48420,"c":"B"},{"d":"2015-10-02T02:00","t":48710,"c":"B"},{"d":"2015-10-02T02:00","t":48985,"c":"B"},{"d":"2015-10-02T02:00","t":49130,"c":"B"},{"d":"2015-10-02T12:00","t":47780,"c":"B"},{"d":"2015-10-02T14:00","t":48500,"c":"B"},{"d":"2015-10-02T14:00","t":48785,"c":"B"},{"d":"2015-10-02T14:00","t":49060,"c":"B"},{"d":"2015-10-02T14:00","t":49290,"c":"B"},
{"d":"2015-10-01T00:00","t":48880,"c":"A"},
{"d":"2015-10-05T00:00","t":45333,"c":"B"},{"d":"2015-10-05T00:00","t":45523,"c":"B"},{"d":"2015-10-05T00:00","t":46441,"c":"B"},{"d":"2015-10-05T00:00","t":47100,"c":"B"},{"d":"2015-10-05T00:00","t":47570,"c":"B"},{"d":"2015-10-05T00:00","t":47950,"c":"B"},{"d":"2015-10-05T00:00","t":48328,"c":"B"},{"d":"2015-10-05T00:00","t":48600,"c":"B"},{"d":"2015-10-05T00:00","t":48880,"c":"B"},{"d":"2015-10-05T00:00","t":49150,"c":"B"},
{"d":"2015-10-05T14:00","t":44950,"c":"B"},{"d":"2015-10-05T14:00","t":45693,"c":"B"},{"d":"2015-10-05T14:00","t":45883,"c":"B"},{"d":"2015-10-05T14:00","t":46073,"c":"B"},{"d":"2015-10-05T14:00","t":46809,"c":"B"},{"d":"2015-10-05T14:00","t":47000,"c":"B"},{"d":"2015-10-05T14:00","t":47180,"c":"B"},{"d":"2015-10-05T14:00","t":47400,"c":"B"},{"d":"2015-10-05T14:00","t":47800,"c":"B"},{"d":"2015-10-05T14:00","t":48130,"c":"B"},{"d":"2015-10-05T14:00","t":48328,"c":"B"},{"d":"2015-10-05T14:00","t":48600,"c":"B"},{"d":"2015-10-05T14:00","t":48880,"c":"B"},{"d":"2015-10-05T14:00","t":49150,"c":"B"},{"d":"2015-10-05T14:00","t":49430,"c":"B"},
{"d":"2015-10-06T04:00","t":45883,"c":"B"},{"d":"2015-10-06T04:00","t":46110,"c":"B"},{"d":"2015-10-06T04:00","t":46441,"c":"B"},{"d":"2015-10-06T04:00","t":46700,"c":"B"},{"d":"2015-10-06T04:00","t":46900,"c":"B"},{"d":"2015-10-06T04:00","t":47234,"c":"B"},{"d":"2015-10-06T04:00","t":47458,"c":"B"},{"d":"2015-10-06T04:00","t":47620,"c":"B"},{"d":"2015-10-06T04:00","t":47900,"c":"B"},{"d":"2015-10-06T04:00","t":48130,"c":"B"},{"d":"2015-10-06T04:00","t":48328,"c":"B"},{"d":"2015-10-06T04:00","t":48600,"c":"B"},{"d":"2015-10-06T04:00","t":48880,"c":"B"},{"d":"2015-10-06T04:00","t":49150,"c":"B"},{"d":"2015-10-06T04:00","t":49430,"c":"B"},{"d":"2015-10-06T04:00","t":49700,"c":"B"},
{"d":"2015-10-06T16:00","t":47458,"c":"B"},{"d":"2015-10-06T16:00","t":48420,"c":"B"},{"d":"2015-10-06T16:00","t":48710,"c":"B"},{"d":"2015-10-06T16:00","t":49015,"c":"B"},{"d":"2015-10-06T16:00","t":49340,"c":"B"},{"d":"2015-10-06T16:00","t":49615,"c":"B"},{"d":"2015-10-06T16:00","t":49932,"c":"B"},
{"d":"2015-10-07T06:00","t":48785,"c":"B"},{"d":"2015-10-07T06:00","t":49060,"c":"B"},{"d":"2015-10-07T06:00","t":49380,"c":"B"},{"d":"2015-10-07T06:00","t":49705,"c":"B"},{"d":"2015-10-07T06:00","t":49977,"c":"B"},{"d":"2015-10-07T18:00","t":49475,"c":"B"},{"d":"2015-10-07T18:00","t":49700,"c":"B"},{"d":"2015-10-07T18:00","t":49932,"c":"B"},{"d":"2015-10-07T18:00","t":50158,"c":"B"},
{"d":"2015-10-08T06:00","t":48785,"c":"B"},{"d":"2015-10-08T06:00","t":49700,"c":"B"},{"d":"2015-10-08T06:00","t":49932,"c":"B"},{"d":"2015-10-08T06:00","t":50158,"c":"B"},{"d":"2015-10-08T06:00","t":50385,"c":"B"},{"d":"2015-10-08T20:00","t":49932,"c":"B"},{"d":"2015-10-08T20:00","t":50158,"c":"B"},{"d":"2015-10-08T20:00","t":50385,"c":"B"},{"d":"2015-10-08T20:00","t":50520,"c":"B"},
{"d":"2015-10-09T06:00","t":48785,"c":"B"},{"d":"2015-10-09T06:00","t":49245,"c":"B"},{"d":"2015-10-09T06:00","t":50158,"c":"B"},{"d":"2015-10-09T06:00","t":50385,"c":"B"},{"d":"2015-10-09T06:00","t":50520,"c":"B"},
{"d":"2015-10-09T04:00","t":47100,"c":"B"},{"d":"2015-10-09T10:00","t":47100,"c":"B"},{"d":"2015-10-09T00:00","t":48050,"c":"B"},{"d":"2015-10-09T08:00","t":48050,"c":"B"},{"d":"2015-10-13T00:00","t":46478,"c":"B"},{"d":"2015-10-13T00:00","t":47100,"c":"B"},
{"d":"2015-10-05T00:00","t":44800,"c":"A"},{"d":"2015-10-06T16:00","t":49890,"c":"A"},
{"d":"2015-10-15T16:00","t":48785,"c":"B"},{"d":"2015-10-16T02:00","t":48420,"c":"B"},
{"d":"2015-10-12T14:00","t":50520,"c":"B"},{"d":"2015-10-13T00:00","t":50070,"c":"B"},{"d":"2015-10-13T00:00","t":50340,"c":"B"},{"d":"2015-10-13T00:00","t":50611,"c":"B"},{"d":"2015-10-13T00:00","t":50840,"c":"B"},{"d":"2015-10-13T12:00","t":50385,"c":"B"},{"d":"2015-10-13T12:00","t":50611,"c":"B"},{"d":"2015-10-13T12:00","t":50840,"c":"B"},{"d":"2015-10-13T12:00","t":50970,"c":"B"},
{"d":"2015-10-14T00:00","t":50158,"c":"B"},{"d":"2015-10-14T00:00","t":50385,"c":"B"},{"d":"2015-10-14T00:00","t":50611,"c":"B"},{"d":"2015-10-14T00:00","t":50840,"c":"B"},{"d":"2015-10-14T00:00","t":51090,"c":"B"},{"d":"2015-10-14T14:00","t":50070,"c":"B"},{"d":"2015-10-14T14:00","t":50295,"c":"B"},{"d":"2015-10-14T14:00","t":50520,"c":"B"},{"d":"2015-10-14T14:00","t":50750,"c":"B"},{"d":"2015-10-14T14:00","t":51010,"c":"B"},{"d":"2015-10-14T14:00","t":51170,"c":"B"},
{"d":"2015-10-15T02:00","t":50070,"c":"B"},{"d":"2015-10-15T02:00","t":50385,"c":"B"},{"d":"2015-10-15T02:00","t":50700,"c":"B"},{"d":"2015-10-15T02:00","t":51050,"c":"B"},{"d":"2015-10-15T02:00","t":51210,"c":"B"},{"d":"2015-10-15T16:00","t":50840,"c":"B"},{"d":"2015-10-15T16:00","t":51050,"c":"B"},{"d":"2015-10-15T16:00","t":51250,"c":"B"},{"d":"2015-10-15T16:00","t":51330,"c":"B"},
{"d":"2015-10-16T04:00","t":50158,"c":"B"},{"d":"2015-10-16T04:00","t":50750,"c":"B"},{"d":"2015-10-16T04:00","t":51050,"c":"B"},{"d":"2015-10-16T04:00","t":51250,"c":"B"},{"d":"2015-10-16T04:00","t":51370,"c":"B"},
{"d":"2015-10-20T00:00","t":44366,"c":"B"},{"d":"2015-10-19T04:00","t":46030,"c":"B"},{"d":"2015-10-20T00:00","t":48050,"c":"B"},{"d":"2015-10-19T04:00","t":49245,"c":"B"},{"d":"2015-10-20T02:00","t":49245,"c":"B"},{"d":"2015-10-19T06:00","t":49615,"c":"B"},{"d":"2015-10-20T02:00","t":49615,"c":"B"},{"d":"2015-10-21T04:00","t":49430,"c":"B"},{"d":"2015-10-22T04:00","t":49430,"c":"B"},{"d":"2015-10-20T00:00","t":50158,"c":"B"},
{"d":"2015-10-19T06:00","t":50840,"c":"B"},{"d":"2015-10-21T00:00","t":50750,"c":"B"},{"d":"2015-10-21T04:00","t":51170,"c":"B"},
{"d":"2015-10-18T18:00","t":51250,"c":"B"},{"d":"2015-10-18T18:00","t":51454,"c":"B"},{"d":"2015-10-18T18:00","t":51575,"c":"B"},{"d":"2015-10-19T06:00","t":50928,"c":"B"},{"d":"2015-10-19T06:00","t":51170,"c":"B"},{"d":"2015-10-19T06:00","t":51410,"c":"B"},{"d":"2015-10-19T06:00","t":51660,"c":"B"},
{"d":"2015-10-19T18:00","t":51130,"c":"B"},{"d":"2015-10-19T18:00","t":51370,"c":"B"},{"d":"2015-10-19T18:00","t":51615,"c":"B"},{"d":"2015-10-19T18:00","t":51780,"c":"B"},{"d":"2015-10-20T06:00","t":51250,"c":"B"},{"d":"2015-10-20T06:00","t":51454,"c":"B"},{"d":"2015-10-20T06:00","t":51658,"c":"B"},{"d":"2015-10-20T06:00","t":51860,"c":"B"},
{"d":"2015-10-20T20:00","t":51454,"c":"B"},{"d":"2015-10-20T20:00","t":51658,"c":"B"},{"d":"2015-10-20T20:00","t":51860,"c":"B"},{"d":"2015-10-21T10:00","t":51658,"c":"B"},{"d":"2015-10-21T10:00","t":51900,"c":"B"},{"d":"2015-10-21T10:00","t":52020,"c":"B"},{"d":"2015-10-22T00:00","t":51860,"c":"B"},{"d":"2015-10-22T00:00","t":52070,"c":"B"},{"d":"2015-10-22T00:00","t":52111,"c":"B"},
{"d":"2015-10-22T12:00","t":51940,"c":"B"},{"d":"2015-10-22T12:00","t":52111,"c":"B"},{"d":"2015-10-22T12:00","t":52270,"c":"B"},{"d":"2015-10-23T02:00","t":52070,"c":"B"},{"d":"2015-10-23T02:00","t":52270,"c":"B"},{"d":"2015-10-23T02:00","t":52398,"c":"B"},{"d":"2015-10-23T10:00","t":52150,"c":"B"},{"d":"2015-10-23T10:00","t":52398,"c":"B"},
{"d":"2015-10-26T00:00","t":49430,"c":"B"},{"d":"2015-10-26T12:00","t":49430,"c":"B"},
{"d":"2015-10-25T18:00","t":51860,"c":"B"},{"d":"2015-10-25T18:00","t":52070,"c":"B"},{"d":"2015-10-25T18:00","t":52315,"c":"B"},{"d":"2015-10-25T18:00","t":52484,"c":"B"},{"d":"2015-10-26T06:00","t":51860,"c":"B"},{"d":"2015-10-26T06:00","t":52315,"c":"B"},{"d":"2015-10-27T10:00","t":51860,"c":"B"},
{"d":"2015-10-26T22:00","t":52570,"c":"B"},{"d":"2015-10-26T22:00","t":52740,"c":"B"},{"d":"2015-10-27T10:00","t":52570,"c":"B"},{"d":"2015-10-27T10:00","t":52740,"c":"B"},{"d":"2015-10-27T10:00","t":52868,"c":"B"},{"d":"2015-10-27T22:00","t":52570,"c":"B"},{"d":"2015-10-27T22:00","t":52740,"c":"B"},{"d":"2015-10-27T22:00","t":52950,"c":"B"},{"d":"2015-10-28T12:00","t":52655,"c":"B"},{"d":"2015-10-28T12:00","t":52868,"c":"B"},{"d":"2015-10-28T12:00","t":53081,"c":"B"},{"d":"2015-10-29T00:00","t":52780,"c":"B"},{"d":"2015-10-29T00:00","t":52995,"c":"B"},{"d":"2015-10-29T00:00","t":53170,"c":"B"},{"d":"2015-10-29T06:00","t":52910,"c":"B"},{"d":"2015-10-29T06:00","t":53170,"c":"B"},
{"d":"2015-11-06T00:00","t":51860,"c":"B"},{"d":"2015-11-06T12:00","t":51860,"c":"B"},{"d":"2015-11-06T00:00","t":52610,"c":"B"},{"d":"2015-11-08T18:00","t":52440,"c":"B"},{"d":"2015-11-09T04:00","t":52780,"c":"B"},{"d":"2015-11-12T06:00","t":53230,"c":"B"},{"d":"2015-11-13T02:00","t":50158,"c":"B"},{"d":"2015-11-09T02:00","t":53507,"c":"B"},
{"d":"2015-11-02T20:00","t":53081,"c":"B"},{"d":"2015-11-02T20:00","t":53290,"c":"B"},{"d":"2015-11-03T10:00","t":53000,"c":"B"},{"d":"2015-11-03T10:00","t":53210,"c":"B"},{"d":"2015-11-03T10:00","t":53430,"c":"B"},{"d":"2015-11-03T22:00","t":52868,"c":"B"},{"d":"2015-11-03T22:00","t":53081,"c":"B"},{"d":"2015-11-03T22:00","t":53347,"c":"B"},{"d":"2015-11-03T22:00","t":53547,"c":"B"},
{"d":"2015-11-04T12:00","t":52825,"c":"B"},{"d":"2015-11-04T12:00","t":53081,"c":"B"},{"d":"2015-11-04T12:00","t":53347,"c":"B"},{"d":"2015-11-04T12:00","t":53587,"c":"B"},{"d":"2015-11-05T00:00","t":52910,"c":"B"},{"d":"2015-11-05T00:00","t":53170,"c":"B"},{"d":"2015-11-05T00:00","t":53427,"c":"B"},{"d":"2015-11-05T00:00","t":53667,"c":"B"},{"d":"2015-11-05T10:00","t":53000,"c":"B"},{"d":"2015-11-05T12:00","t":53170,"c":"B"},{"d":"2015-11-05T12:00","t":53507,"c":"B"},{"d":"2015-11-05T12:00","t":53747,"c":"B"},
{"d":"2015-11-06T02:00","t":53507,"c":"B"},{"d":"2015-11-06T02:00","t":53747,"c":"B"},{"d":"2015-11-06T02:00","t":53907,"c":"B"},{"d":"2015-11-06T14:00","t":53667,"c":"B"},{"d":"2015-11-06T14:00","t":53867,"c":"B"},{"d":"2015-11-06T14:00","t":54027,"c":"B"},
{"d":"2015-11-08T22:00","t":53707,"c":"B"},{"d":"2015-11-08T22:00","t":53907,"c":"B"},{"d":"2015-11-08T22:00","t":54107,"c":"B"},{"d":"2015-11-09T10:00","t":53907,"c":"B"},{"d":"2015-11-09T10:00","t":54107,"c":"B"},{"d":"2015-11-09T10:00","t":54227,"c":"B"},{"d":"2015-11-10T00:00","t":54067,"c":"B"},{"d":"2015-11-10T00:00","t":54267,"c":"B"},{"d":"2015-11-10T12:00","t":54147,"c":"B"},{"d":"2015-11-10T12:00","t":54307,"c":"B"},{"d":"2015-11-10T12:00","t":54450,"c":"B"},{"d":"2015-11-11T02:00","t":54307,"c":"B"},{"d":"2015-11-11T02:00","t":54450,"c":"B"},{"d":"2015-11-11T14:00","t":54420,"c":"B"},{"d":"2015-11-11T14:00","t":54539,"c":"B"},{"d":"2015-11-12T04:00","t":54500,"c":"B"},{"d":"2015-11-12T04:00","t":54660,"c":"B"},{"d":"2015-11-12T16:00","t":54580,"c":"B"},{"d":"2015-11-12T16:00","t":54740,"c":"B"},{"d":"2015-11-13T04:00","t":54620,"c":"B"},{"d":"2015-11-13T04:00","t":54780,"c":"B"},{"d":"2015-11-13T10:00","t":54700,"c":"B"},{"d":"2015-11-13T10:00","t":54820,"c":"B"},
{"d":"2015-11-16T04:00","t":54900,"c":"B"},{"d":"2015-11-18T02:00","t":54900,"c":"B"},{"d":"2015-11-22T22:00","t":52484,"c":"B"},{"d":"2015-11-23T02:00","t":52484,"c":"B"},{"d":"2015-12-04T02:00","t":53827,"c":"B"},{"d":"2015-12-04T02:00","t":53987,"c":"B"},
{"d":"2015-08-03T01:00","t":35916,"c":"C"},{"d":"2015-08-06T03:00","t":35916,"c":"C"},
{"d":"2015-09-15T22:00","t":43700,"c":"A"},{"d":"2015-09-17T04:00","t":43700,"c":"A"},{"d":"2015-09-18T10:00","t":43700,"c":"A"},{"d":"2015-09-24T12:00","t":43890,"c":"A"},{"d":"2015-09-25T02:00","t":43780,"c":"A"},{"d":"2015-09-25T02:00","t":44160,"c":"A"}
]},"mark":{"type":"circle","size":62,"opacity":1,"clip":true},"encoding":{"color":{"field":"c","type":"nominal","legend":null,"scale":{"domain":["A","B","C"],"range":["#2fe0ff","#c905b8","#f09a00"]}}}},
{"data":{"values":[{"d":"2015-09-29T12:00","t":42558,"o":1},{"d":"2015-10-09T18:00","t":42558,"o":2},{"d":"2015-10-09T18:00","t":44327,"o":3},{"d":"2015-10-03T14:00","t":44327,"o":4},{"d":"2015-10-01T20:00","t":45143,"o":5},{"d":"2015-09-30T11:00","t":44796,"o":6},{"d":"2015-09-28T14:00","t":45731,"o":7},{"d":"2015-09-30T00:00","t":44757,"o":8},{"d":"2015-09-30T18:00","t":44914,"o":9},{"d":"2015-10-01T10:00","t":44327,"o":10},{"d":"2015-09-29T12:00","t":44327,"o":11}]},"mark":{"type":"line","interpolate":"linear-closed","fill":"#777777","stroke":"#888888","strokeWidth":1},"encoding":{"order":{"field":"o","type":"quantitative"}}},
{"data":{"values":[{"d":"2015-09-29T06:00","t":42478,"o":1},{"d":"2015-10-09T12:00","t":42478,"o":2},{"d":"2015-10-09T12:00","t":44249,"o":3},{"d":"2015-10-03T07:00","t":44249,"o":4},{"d":"2015-10-01T13:00","t":45067,"o":5},{"d":"2015-09-30T05:00","t":44718,"o":6},{"d":"2015-09-28T07:00","t":45655,"o":7},{"d":"2015-09-29T16:00","t":44679,"o":8},{"d":"2015-09-30T11:00","t":44835,"o":9},{"d":"2015-10-01T03:00","t":44249,"o":10},{"d":"2015-09-29T06:00","t":44249,"o":11}]},"mark":{"type":"line","interpolate":"linear-closed","fill":"#ffffff","stroke":"#444444","strokeWidth":1.2},"encoding":{"order":{"field":"o","type":"quantitative"}}},
{"data":{"values":[{"d":"2015-10-04T00:00","t":43280,"label":"3"}]},"mark":{"type":"text","font":"DejaVu Sans","fontWeight":"bold","fontSize":25,"color":"#000000","align":"center","baseline":"middle"},"encoding":{"text":{"field":"label","type":"nominal"}}}
]}
